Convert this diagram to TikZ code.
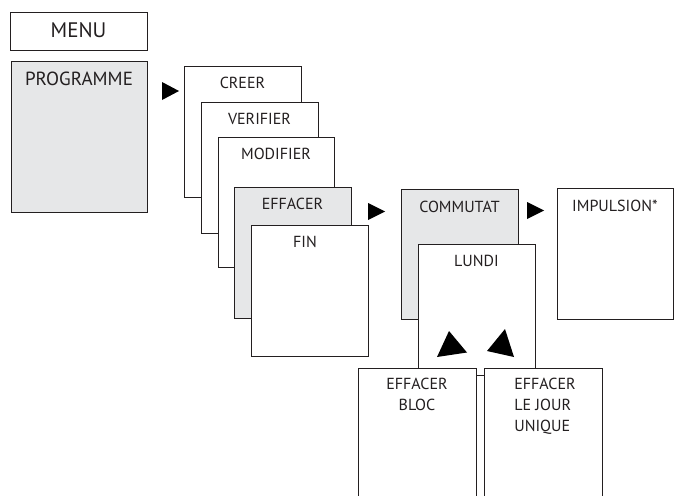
\documentclass[tikz,border=0pt]{standalone}
\usepackage{fontspec}
\setmainfont{PT Sans}
\definecolor{boxgray}{HTML}{E6E7E8}
\definecolor{ink}{HTML}{231F20}
\begin{document}
\begin{tikzpicture}[x=1pt,y=-1pt,
  box/.style={draw=ink, line width=0.8pt, fill=white, rectangle, anchor=north west, inner sep=0pt, outer sep=0pt},
  gbox/.style={box, fill=boxgray},
  lbl/.style={font=\fontsize{16}{21}\selectfont, text=ink, inner sep=0pt, anchor=base},
  big/.style={lbl, font=\fontsize{21}{21}\selectfont},
  tri/.style={fill=black, draw=none}]
\useasboundingbox (0,0) rectangle (674,495);
\clip (0,0) rectangle (674,495);
% menu column
\node[box, minimum width=137pt, minimum height=38pt] (menu) at (10,12) {};
\node[big] (menut) at (78.5,37.5) {MENU};
\node[gbox, minimum width=136pt, minimum height=151pt] (prog) at (11,61) {};
\node[lbl, font=\fontsize{19}{21}\selectfont] (progt) at (79,85) {PROGRAMME};
\fill[tri] (162,82) -- (179,91) -- (162,100) -- cycle;
% stacked program boxes
\node[box, minimum width=117pt, minimum height=131pt] (creer) at (184,66) {};
\node[lbl] (creert) at (242.5,88) {CREER};
\node[box, minimum width=117pt, minimum height=131pt] (verif) at (201,102) {};
\node[lbl] (verift) at (259.5,124) {VERIFIER};
\node[box, minimum width=116pt, minimum height=130pt] (modif) at (218,137) {};
\node[lbl] (modift) at (276,159) {MODIFIER};
\node[gbox, minimum width=117pt, minimum height=131pt] (eff) at (234,187) {};
\node[lbl] (efft) at (292.5,209) {EFFACER};
\node[box, minimum width=117pt, minimum height=131pt] (fin) at (251,225) {};
\node[lbl] (fint) at (305,247) {FIN};
\fill[tri] (368,203) -- (385,211.5) -- (368,220) -- cycle;
% commutat
\node[gbox, minimum width=117pt, minimum height=130pt] (comm) at (401,189) {};
\node[lbl] (commt) at (459.5,212) {COMMUTAT};
\node[box, minimum width=117pt, minimum height=131pt] (lundi) at (418,244) {};
\node[lbl] (lundit) at (476.5,266) {LUNDI};
\fill[tri] (527,202) -- (544,210.5) -- (527,219) -- cycle;
\node[box, minimum width=116pt, minimum height=131pt] (imp) at (557,188) {};
\node[lbl, anchor=base west] (impt) at (572,211) {IMPULSION*};
% up triangles
\fill[tri] (449,331) -- (467,352.5) -- (437,357) -- cycle;
\fill[tri] (505,329) -- (514,357) -- (487,351) -- cycle;
% bottom boxes
\node[box, minimum width=118pt, minimum height=150pt] (bloc) at (358,368) {};
\node[lbl, align=center, anchor=north] (bloct) at (417,377.5) {EFFACER\\BLOC};
\node[box, minimum width=118pt, minimum height=150pt] (jour) at (484,368) {};
\node[lbl, align=left, anchor=north] (jourt) at (545,377.5) {EFFACER\\LE JOUR\\UNIQUE};
\end{tikzpicture}
\end{document}
